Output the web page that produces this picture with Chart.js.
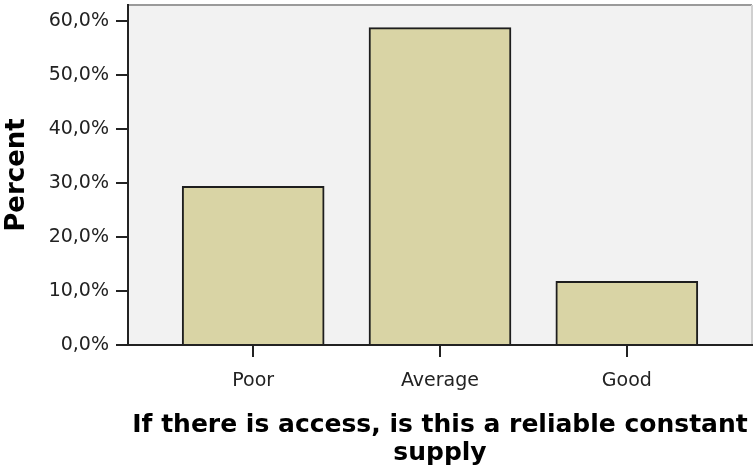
<!DOCTYPE html>
<html>
<head>
<meta charset="utf-8">
<script src="https://cdn.jsdelivr.net/npm/chart.js@4"></script>
<style>
  body { margin: 0; background: #fff; }
  canvas { display: block; }
</style>
</head>
<body>
<canvas id="reliabilityChart" width="754" height="472"></canvas>
<script>
// ===== Data =====
const categories = ['Poor', 'Average', 'Good'];
const percents = [29.4, 58.8, 11.8];
const yTicks = [0, 10, 20, 30, 40, 50, 60];

const fmtPct = v => v.toFixed(1).replace('.', ',') + '%';

// plot frame: grey background, light top/right edges
const plotFrame = {
  id: 'plotFrame',
  beforeDraw(chart) {
    const { ctx, chartArea: a } = chart;
    ctx.save();
    ctx.fillStyle = '#f2f2f2';
    ctx.fillRect(a.left, a.top, a.right - a.left, a.bottom - a.top);
    ctx.strokeStyle = '#9a9a9a';
    ctx.lineWidth = 2;
    ctx.beginPath();
    ctx.moveTo(a.left, a.top);
    ctx.lineTo(a.right, a.top);
    ctx.stroke();
    ctx.strokeStyle = '#d0d0d0';
    ctx.beginPath();
    ctx.moveTo(a.right, a.top);
    ctx.lineTo(a.right, a.bottom);
    ctx.stroke();
    ctx.restore();
  }
};

const ctx = document.getElementById('reliabilityChart').getContext('2d');
const reliabilityChart = new Chart(ctx, {
  type: 'bar',
  data: {
    datasets: [{
      data: categories.map((c, i) => ({ x: i, y: percents[i] })),
      backgroundColor: '#d9d4a5',
      borderColor: '#1e1e1e',
      borderWidth: 2,
      barThickness: 142
    }]
  },
  options: {
    responsive: false,
    animation: false,
    layout: { padding: { top: 5, right: 2, left: 0, bottom: 0 } },
    plugins: { legend: { display: false }, tooltip: { enabled: false } },
    scales: {
      x: {
        type: 'linear',
        offset: false,
        min: -0.67,
        max: 2.67,
        afterBuildTicks: s => { s.ticks = categories.map((c, i) => ({ value: i })); },
        afterFit: s => { s.height = 127; s.paddingLeft = 0; s.paddingRight = 0; },
        ticks: {
          color: '#222',
          padding: 13,
          font: { family: 'DejaVu Sans', size: 19 },
          callback: v => categories[v]
        },
        grid: { drawOnChartArea: false, drawTicks: true, tickLength: 12, color: '#222', lineWidth: 2, offset: false },
        border: { display: true, color: '#222', width: 2 },
        title: {
          display: true,
          text: ['If there is access, is this a reliable constant', 'supply'],
          color: '#000',
          font: { family: 'DejaVu Sans', size: 25, weight: 'bold', lineHeight: 1.1 },
          padding: { top: 0, bottom: 5 }
        }
      },
      y: {
        min: 0,
        max: 63,
        afterBuildTicks: s => { s.ticks = yTicks.map(v => ({ value: v })); },
        afterFit: s => { s.width = 128; s.paddingTop = 0; s.paddingBottom = 0; },
        ticks: {
          color: '#222',
          padding: 7,
          font: { family: 'DejaVu Sans', size: 19 },
          callback: v => fmtPct(v)
        },
        grid: { drawOnChartArea: false, drawTicks: true, tickLength: 12, color: '#222', lineWidth: 2 },
        border: { display: true, color: '#222', width: 2 },
        title: {
          display: true,
          text: 'Percent',
          color: '#000',
          font: { family: 'DejaVu Sans', size: 26, weight: 'bold', lineHeight: 1.1 },
          padding: { top: 3, bottom: 0 }
        }
      }
    }
  },
  plugins: [plotFrame]
});
</script>
</body>
</html>
